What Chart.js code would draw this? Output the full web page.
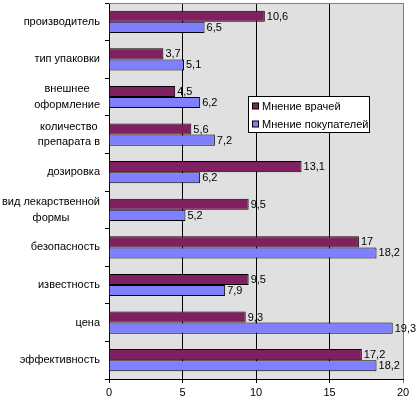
<!DOCTYPE html>
<html>
<head>
<meta charset="utf-8">
<script src="https://cdn.jsdelivr.net/npm/chart.js@4.4.0/dist/chart.umd.min.js"></script>
<style>
html,body{margin:0;padding:0;background:#fff;}
#wrap{width:420px;height:404px;position:relative;}
</style>
</head>
<body>
<div id="wrap"><canvas id="c" width="420" height="404"></canvas></div>
<script>
const categories = [
  ['производитель'],
  ['тип упаковки'],
  ['внешнее', 'оформление'],
  ['количество', 'препарата в'],
  ['дозировка'],
  ['вид лекарственной', 'формы'],
  ['безопасность'],
  ['известность'],
  ['цена'],
  ['эффективность']
];
const seriesNames = ['Мнение врачей', 'Мнение покупателей'];
const doctorsValues = [10.6, 3.7, 4.5, 5.6, 13.1, 9.5, 17, 9.5, 9.3, 17.2];
const buyersValues = [6.5, 5.1, 6.2, 7.2, 6.2, 5.2, 18.2, 7.9, 19.3, 18.2];
const xTicks = [0, 5, 10, 15, 20];

const FONT = '11px "Liberation Sans", Arial, sans-serif';

const bgPlugin = {
  id: 'bg',
  beforeDraw(chart) {
    const {ctx, chartArea: a} = chart;
    ctx.save();
    ctx.fillStyle = '#E0E0E0';
    ctx.fillRect(a.left, a.top, a.right - a.left, a.bottom - a.top);
    ctx.restore();
  },
  afterDatasetsDraw(chart) {
    const {ctx, chartArea: a} = chart;
    ctx.save();
    ctx.strokeStyle = '#808080';
    ctx.lineWidth = 1;
    ctx.beginPath();
    ctx.moveTo(Math.round(a.left), Math.round(a.top) + 0.5);
    ctx.lineTo(Math.round(a.right) + 1, Math.round(a.top) + 0.5);
    ctx.stroke();
    ctx.restore();
  }
};

const labelPlugin = {
  id: 'labels',
  afterDraw(chart) {
    const ctx = chart.ctx;
    const y = chart.scales.y;
    ctx.save();
    ctx.font = FONT;
    ctx.fillStyle = '#000';
    ctx.textBaseline = 'middle';
    ctx.textAlign = 'center';
    const rightEdge = 100;
    const lh = 15.5;
    categories.forEach((lines, i) => {
      const cy = y.getPixelForValue(i);
      const maxW = Math.max(...lines.map(l => ctx.measureText(l).width));
      const cx = rightEdge - maxW / 2;
      lines.forEach((l, k) => {
        const ly = cy + (k - (lines.length - 1) / 2) * lh;
        ctx.fillText(l, cx, ly);
      });
    });
    // value labels
    ctx.textAlign = 'left';
    chart.data.datasets.forEach((ds, di) => {
      const meta = chart.getDatasetMeta(di);
      meta.data.forEach((bar, i) => {
        const v = ds.data[i];
        const txt = String(v).replace('.', ',');
        ctx.fillText(txt, bar.x + 2, bar.y + 0.5);
      });
    });
    // legend
    const lx = 248.5, ly = 96.5, lw = 121, lhgt = 36;
    ctx.fillStyle = '#fff';
    ctx.fillRect(lx, ly, lw, lhgt);
    ctx.strokeStyle = '#000';
    ctx.lineWidth = 1;
    ctx.strokeRect(lx, ly, lw, lhgt);
    const rows = [106.5, 124.5];
    chart.data.datasets.forEach((ds, di) => {
      const ry = rows[di];
      ctx.fillStyle = ds.backgroundColor;
      ctx.fillRect(252.5, ry - 3.5, 6, 6);
      ctx.strokeRect(252.5, ry - 3.5, 6, 6);
      ctx.fillStyle = '#000';
      ctx.fillText(ds.label, 262, ry);
    });
    ctx.restore();
  }
};

new Chart(document.getElementById('c'), {
  type: 'bar',
  data: {
    labels: categories,
    datasets: [
      {label: seriesNames[0], data: doctorsValues, backgroundColor: '#802060', borderColor: '#000', borderWidth: 1, categoryPercentage: 0.59, barPercentage: 1},
      {label: seriesNames[1], data: buyersValues, backgroundColor: '#8080FF', borderColor: '#000', borderWidth: 1, categoryPercentage: 0.59, barPercentage: 1}
    ]
  },
  options: {
    indexAxis: 'y',
    responsive: false,
    animation: false,
    devicePixelRatio: 1,
    layout: {padding: {top: 3, right: 17, bottom: 0, left: 0}},
    plugins: {legend: {display: false}, tooltip: {enabled: false}},
    scales: {
      x: {
        min: 0, max: 20,
        afterBuildTicks(s) { s.ticks = xTicks.map(v => ({value: v})); },
        afterFit(s) { s.height = 25; },
        ticks: {font: {family: '"Liberation Sans", Arial, sans-serif', size: 11}, color: '#000', padding: 3},
        grid: {
          color: c => (c.tick && c.tick.value === 20) ? '#808080' : '#000',
          lineWidth: 1, drawTicks: true, tickLength: 4
        },
        border: {color: '#000', width: 1}
      },
      y: {
        offset: true,
        afterFit(s) { s.width = 109; },
        ticks: {display: false},
        grid: {drawOnChartArea: false, drawTicks: true, tickLength: 4, color: '#000', offset: true},
        border: {color: '#000', width: 1}
      }
    }
  },
  plugins: [bgPlugin, labelPlugin]
});
</script>
</body>
</html>
